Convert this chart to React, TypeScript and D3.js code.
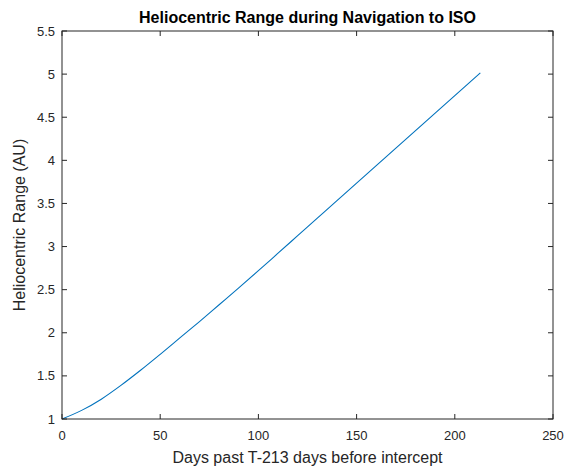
import React from "react";
import * as d3 from "d3";

const days = [0, 10, 20, 30, 40, 50, 60, 70, 80, 90, 100, 110, 120, 130, 140, 150, 160, 170, 180, 190, 200, 213];
const rangeAU = [1.0, 1.1, 1.23, 1.39, 1.565, 1.75, 1.94, 2.13, 2.325, 2.52, 2.72, 2.923, 3.126, 3.329, 3.532, 3.735, 3.938, 4.141, 4.344, 4.547, 4.75, 5.014];
const xTicks = [0, 50, 100, 150, 200, 250];
const yTicks = [1, 1.5, 2, 2.5, 3, 3.5, 4, 4.5, 5, 5.5];

const W = 565, H = 470;
const L = 62, R = 553, T = 31, B = 419;
const AX = "#262626";
const FONT = "'Liberation Sans', Arial, Helvetica, sans-serif";

export default function App() {
  const x = d3.scaleLinear().domain([0, 250]).range([L, R]);
  const y = d3.scaleLinear().domain([1, 5.5]).range([B, T]);
  const line = d3.line<number>().x((_, i) => x(days[i])).y((d) => y(d)).curve(d3.curveMonotoneX);
  const tl = 5;
  return (
    <svg width={W} height={H} style={{ position: "absolute", left: 0, top: 0, background: "#fff" }} fontFamily={FONT}>
      <rect x={0} y={0} width={W} height={H} fill="#fff" />
      <path d={line(rangeAU) || ""} fill="none" stroke="#0072BD" strokeWidth={1.1} />
      <rect x={L} y={T} width={R - L} height={B - T} fill="none" stroke={AX} strokeWidth={1} />
      {xTicks.map((t) => (
        <g key={"x" + t}>
          <line x1={x(t)} x2={x(t)} y1={B} y2={B - tl} stroke={AX} />
          <line x1={x(t)} x2={x(t)} y1={T} y2={T + tl} stroke={AX} />
          <text x={x(t)} y={440} textAnchor="middle" fontSize={13} fill={AX}>{t}</text>
        </g>
      ))}
      {yTicks.map((t) => (
        <g key={"y" + t}>
          <line x1={L} x2={L + tl} y1={y(t)} y2={y(t)} stroke={AX} />
          <line x1={R} x2={R - tl} y1={y(t)} y2={y(t)} stroke={AX} />
          <text x={55} y={y(t) + 4.5} textAnchor="end" fontSize={13} fill={AX}>{t}</text>
        </g>
      ))}
      <text x={(L + R) / 2} y={22.5} textAnchor="middle" fontSize={16} fontWeight="bold" fill="#000">
        Heliocentric Range during Navigation to ISO
      </text>
      <text x={(L + R) / 2} y={463} textAnchor="middle" fontSize={16} fill={AX}>
        Days past T-213 days before intercept
      </text>
      <text transform={`translate(25,${(T + B) / 2}) rotate(-90)`} textAnchor="middle" fontSize={16} fill={AX}>
        Heliocentric Range (AU)
      </text>
    </svg>
  );
}
